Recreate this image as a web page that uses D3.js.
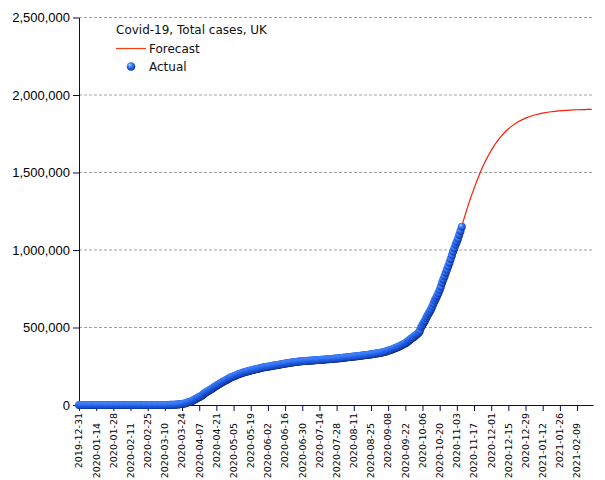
<!DOCTYPE html>
<html>
<head>
<meta charset="utf-8">
<script src="https://cdn.jsdelivr.net/npm/d3@7"></script>
<style>
  html, body { margin: 0; padding: 0; background: #ffffff; }
  svg { display: block; }
</style>
</head>
<body>
<script>
// ---------------- DATA ----------------
const chartTitle = "Covid-19, Total cases, UK";
const seriesNames = ["Forecast", "Actual"];

// Actual cumulative cases, one value per day, grouped by month
const cases2019Dec = [0];
const cases2020Jan = [0,0,0,0,0,0,0,0,0,0, 0,0,0,0,0,0,0,0,0,0, 0,0,0,0,0,0,0,0,0,0, 2];
const cases2020Feb = [2,2,2,2,2, 3,3,3,3, 8,8,9, 9,9,9,9,9,9,9,9,9,9,9,9,9, 13,15,19,23];
const cases2020Mar = [35,40,51,85,115,163,206,273,321,373, 456,590,798,1140,1140,1391,1543,1950,2626,3269,
  3983,5018,5683,6650,8077,9529,11658,14543,17089,19522, 22141];
const cases2020Apr = [25150,29474,33718,38168,41903,47806,51608,55242,60733,65077,
  73758,78991,84279,88621,93873,98476,103093,108692,114217,120067,
  124743,129044,133495,138078,143464,148377,152840,157149,161145,165221];
const cases2020May = [171000,175000,178500,181500,184500,187800,191500,195200,198600,201300,
  204000,207000,209400,211700,214000,216400,218500,220600,222700,224800,
  226600,228700,230800,232600,234000,236200,238000,239800,241600,243100, 244600];
const cases2020Jun = [246000,247500,248900,250200,251800,253300,254700,255900,257100,258600,
  259900,261300,262800,264200,265600,267000,268300,269500,270800,272200,
  273500,274600,275700,276700,277600,278700,279900,280800,281700,282500];
const cases2020Jul = [283200,283800,284300,284900,285400,285800,286400,287000,287600,288100,
  288900,289600,290100,290600,291400,291900,292600,293500,294100,294800,
  295400,295800,296400,297100,297900,298700,299400,300100,300700,301500, 302300];
const cases2020Aug = [303200,304700,305600,306300,307000,307900,308900,309800,310800,311600,
  312300,313400,314300,315300,316400,317400,318500,319200,320300,321100,
  322300,323300,324600,325600,326600,327800,328800,330400,331600,332800, 334500];
const cases2020Sep = [336000,337200,338700,340400,342300,344800,347200,350100,352600,355200,
  358100,361700,365200,368500,371100,374200,378200,381600,385900,390400,
  394300,398600,403600,409700,416400,423200,429300,434900,439000,446200];
const cases2020Oct = [453264,460178,467146,480017,502978,515571,530113,544275,561815,575679,
  590844,603716,617688,634920,654644,673622,689257,705428,722409,741212,
  762542,789229,810467,830998,854010,873800,894690,917575,942275,965340, 989745];
const cases2020Nov = [1011660,1034914,1053864,1073882,1099059,1123197,1150000];

const actualMonthStarts = ["2019-12-31","2020-01-01","2020-02-01","2020-03-01","2020-04-01","2020-05-01",
  "2020-06-01","2020-07-01","2020-08-01","2020-09-01","2020-10-01","2020-11-01"];
const actualMonthValues = [cases2019Dec, cases2020Jan, cases2020Feb, cases2020Mar, cases2020Apr, cases2020May,
  cases2020Jun, cases2020Jul, cases2020Aug, cases2020Sep, cases2020Oct, cases2020Nov];

// Forecast
const forecastDates = ["2020-11-07","2020-11-08","2020-11-11","2020-11-14","2020-11-17","2020-11-20","2020-11-23",
  "2020-11-26","2020-11-29","2020-12-02","2020-12-05","2020-12-08","2020-12-11","2020-12-14","2020-12-17",
  "2020-12-20","2020-12-23","2020-12-26","2020-12-29","2021-01-01","2021-01-04","2021-01-07","2021-01-10",
  "2021-01-13","2021-01-16","2021-01-19","2021-01-22","2021-01-25","2021-01-28","2021-01-31","2021-02-03",
  "2021-02-06","2021-02-09","2021-02-12","2021-02-15","2021-02-18","2021-02-21"];
const forecastValues = [1150000,1180000,1257000,1329600,1397400,1460000,1517100,
  1568700,1614700,1655600,1691700,1723000,1750300,1774000,1794400,
  1812000,1826900,1839700,1850600,1859800,1867600,1874300,1880000,
  1884800,1888700,1892000,1894900,1897300,1899300,1901000,1902400,
  1903600,1904700,1905500,1906200,1906800,1907300];

const xDomain = ["2019-12-31", "2021-02-22"];
const yTicks = [0, 500000, 1000000, 1500000, 2000000, 2500000];
const tickStepDays = 14;

// ---------------- BUILD ----------------
const W = 605, H = 480;
const mLeft = 79, mRight = 593, mTop = 17.5, mBottom = 405;

const svg = d3.select("body").append("svg").attr("width", W).attr("height", H);

const x = d3.scaleUtc().domain(xDomain.map(d => new Date(d + "T00:00:00Z"))).range([mLeft, mRight]);
const y = d3.scaleLinear().domain([0, 2500000]).range([mBottom, mTop]);

const actual = [];
actualMonthStarts.forEach((s, mi) => {
  const d0 = new Date(s + "T00:00:00Z");
  actualMonthValues[mi].forEach((v, i) => actual.push({ date: d3.utcDay.offset(d0, i), value: v }));
});
const forecast = forecastDates.map((d, i) => ({ date: new Date(d + "T00:00:00Z"), value: forecastValues[i] }));

// gradient for balls
const defs = svg.append("defs");
const grad = defs.append("radialGradient").attr("id", "ball")
  .attr("cx", "42%").attr("cy", "38%").attr("r", "62%").attr("fx", "35%").attr("fy", "30%");
grad.append("stop").attr("offset", "0%").attr("stop-color", "#d2e6ff");
grad.append("stop").attr("offset", "25%").attr("stop-color", "#5c98ff");
grad.append("stop").attr("offset", "60%").attr("stop-color", "#2264f0");
grad.append("stop").attr("offset", "88%").attr("stop-color", "#1848c0");
grad.append("stop").attr("offset", "100%").attr("stop-color", "#0c2680");

// grid
svg.append("g").selectAll("line").data(yTicks.filter(t => t > 0)).join("line")
  .attr("x1", mLeft).attr("x2", mRight)
  .attr("y1", d => y(d)).attr("y2", d => y(d))
  .attr("stroke", "#a0a0a0").attr("stroke-width", 1).attr("stroke-dasharray", "3,2");

const axisColor = "#0a0a5c";

// y axis
const yAxis = svg.append("g").attr("transform", `translate(${mLeft},0)`)
  .call(d3.axisLeft(y).tickValues(yTicks).tickFormat(d3.format(",")).tickSize(6).tickSizeOuter(0).tickPadding(3));
yAxis.selectAll("path, line").attr("stroke", axisColor);
yAxis.selectAll("text").attr("fill", "#000").style("font-family", "'Liberation Sans', Arial, sans-serif").style("font-size", "13px");

// x axis
const xTicks = d3.utcDay.range(x.domain()[0], x.domain()[1], tickStepDays);
const xAxis = svg.append("g").attr("transform", `translate(0,${mBottom})`)
  .call(d3.axisBottom(x).tickValues(xTicks).tickFormat("").tickSize(6).tickSizeOuter(0));
xAxis.selectAll("path, line").attr("stroke", axisColor);
const fmt = d3.utcFormat("%Y-%m-%d");
svg.append("g").selectAll("text").data(xTicks).join("text")
  .attr("transform", (d, i) => `translate(${x(d)},${mBottom + 8 + (i % 2) * 10}) rotate(-90)`)
  .attr("text-anchor", "end").attr("dy", "0.35em")
  .style("font-family", "'DejaVu Sans', Verdana, sans-serif").style("font-size", "9.5px")
  .attr("fill", "#000")
  .text(d => fmt(d));

// forecast line
svg.append("path").datum(forecast)
  .attr("fill", "none").attr("stroke", "#ff1a00").attr("stroke-width", 1.2)
  .attr("d", d3.line().x(d => x(d.date)).y(d => y(d.value)));

// actual points
svg.append("g").selectAll("circle").data(actual).join("circle")
  .attr("cx", d => x(d.date)).attr("cy", d => y(d.value)).attr("r", 4)
  .attr("fill", "url(#ball)");

// legend
const lg = svg.append("g").style("font-family", "'DejaVu Sans', Verdana, sans-serif").style("font-size", "12px");
lg.append("text").attr("x", 116).attr("y", 34).text(chartTitle).attr("fill", "#111");
lg.append("line").attr("x1", 116).attr("x2", 146).attr("y1", 48.5).attr("y2", 48.5)
  .attr("stroke", "#ff3a10").attr("stroke-width", 1.2);
lg.append("text").attr("x", 149).attr("y", 53).text(seriesNames[0]).attr("fill", "#111");
lg.append("circle").attr("cx", 131).attr("cy", 66.5).attr("r", 4.3).attr("fill", "url(#ball)");
lg.append("text").attr("x", 149).attr("y", 71).text(seriesNames[1]).attr("fill", "#111");
</script>
</body>
</html>
